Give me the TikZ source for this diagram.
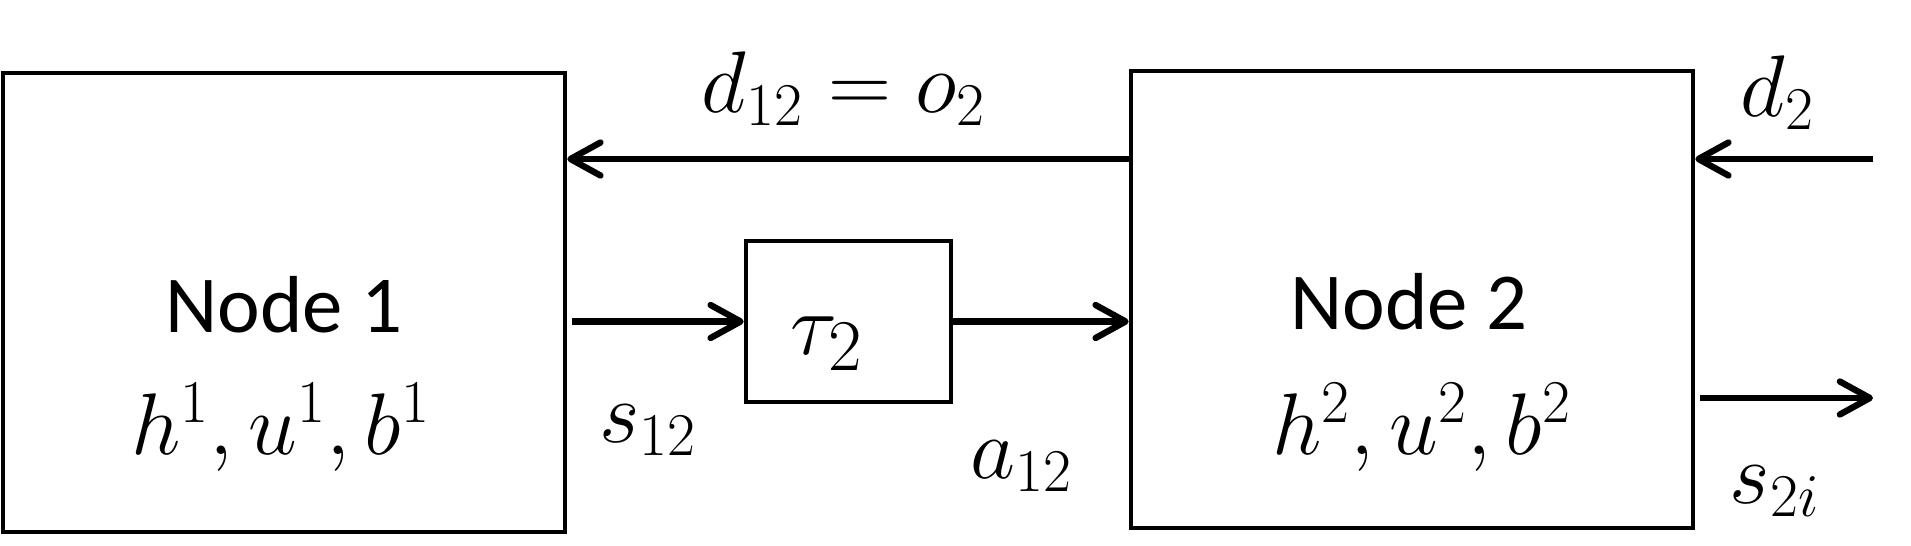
\documentclass[tikz,border=0pt]{standalone}
\usepackage[no-math]{fontspec}
\setmainfont{Carlito}
\usetikzlibrary{arrows.meta}
\begin{document}
\begin{tikzpicture}[>={Straight Barb[length=3mm,width=3.3mm,round]},
  box/.style={draw, line width=1.3pt, inner sep=0pt},
  flow/.style={->, line width=1.8pt},
  txt/.style={anchor=base, font=\fontsize{23}{28}\selectfont},
  var/.style={anchor=base, font=\fontsize{25}{30}\selectfont}]
\useasboundingbox (0,0) rectangle (19.11,5.45);
\node[box, minimum width=5.62cm, minimum height=4.59cm](node1) at (2.84,2.425){};
\node[box, minimum width=5.62cm, minimum height=4.57cm](node2) at (14.12,2.455){};
\node[box, minimum width=2.05cm, minimum height=1.61cm](delay) at (8.485,2.235){};
\node[txt](name1) at (2.84,2.13){Node 1};
\node[txt](name2) at (14.09,2.16){Node 2};
\node[var](state1) at (2.81,0.91){$h^1,u^1,b^1$};
\node[var](state2) at (14.22,0.91){$h^2,u^2,b^2$};
\node[var, font=\fontsize{30}{36}\selectfont](tau) at (8.27,1.91){$\tau_2$};
\coordinate (d2in) at (18.73,3.86);
\coordinate (s2out) at (18.73,1.47);
% links between the nodes
\draw[flow](node2.west |- d2in)--(node1.east |- d2in);
\draw[flow](d2in)--(d2in -| node2.east);
\draw[flow]([xshift=.05cm]node1.east |- delay.west)--(delay.west);
\draw[flow](delay.east)--(node2.west |- delay.east);
\draw[flow]([xshift=.05cm]node2.east |- s2out)--(s2out);
% labels
\node[var](d12) at (8.44,4.33){$d_{12}=o_2$};
\node[var](d2) at (17.78,4.29){$d_2$};
\node[var](s12) at (6.48,1.03){$s_{12}$};
\node[var](a12) at (10.22,0.67){$a_{12}$};
\node[var](s2i) at (17.75,0.42){$s_{2i}$};
\end{tikzpicture}
\end{document}
